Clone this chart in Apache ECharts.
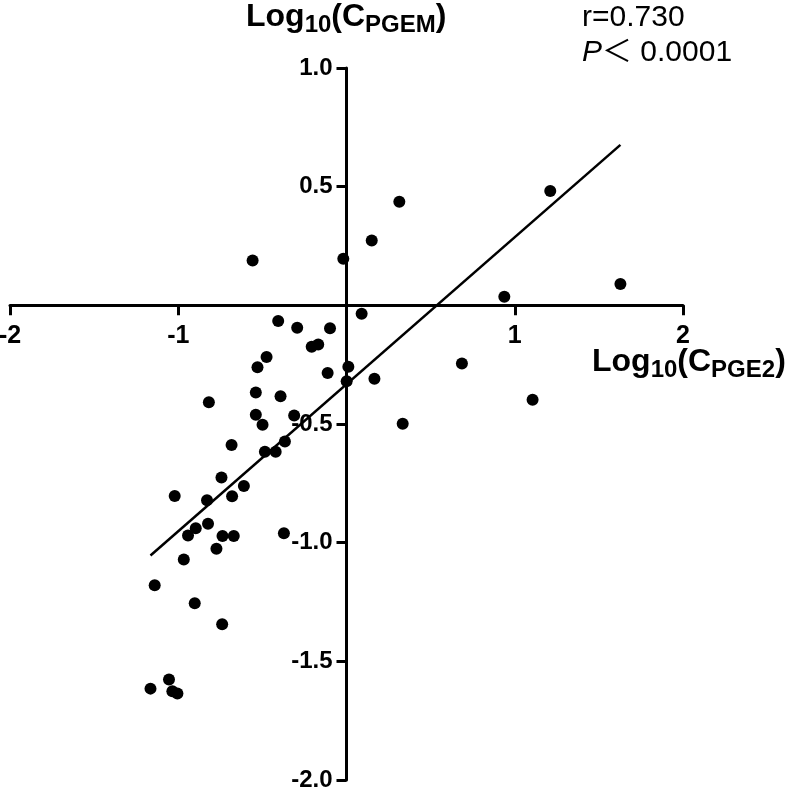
<!DOCTYPE html>
<html>
<head>
<meta charset="utf-8">
<script src="https://cdn.jsdelivr.net/npm/echarts@6/dist/echarts.min.js"></script>
<style>html,body{margin:0;padding:0;background:#fff}#c{width:793px;height:790px}</style>
</head>
<body>
<div id="c"></div>
<script>
// Data (x = Log10(C_PGE2), y = Log10(C_PGEM))
var pointsX = [0.314, 1.211, 0.150, -0.019, 1.628, 0.938, -0.558,
  0.090, -0.098, 0.686, 0.011, 0.001, 0.166, 1.106, 0.334,
  -0.406, -0.293, -0.207, -0.168, -0.475, -0.529, -0.112, -0.539, -0.392, -0.818,
  -0.539, -0.499, -0.311, -0.366, -0.421, -0.485, -0.683, -0.743, -0.610, -1.021,
  -0.829, -0.680, -0.823, -0.896, -0.942, -0.737, -0.670, -0.773, -0.372, -0.967,
  -1.140, -0.902, -0.739, -1.055, -1.165, -1.035, -1.005];
var pointsY = [0.436, 0.482, 0.273, 0.196, 0.090, 0.036, 0.189,
  -0.035, -0.097, -0.245, -0.259, -0.320, -0.309, -0.398, -0.499,
  -0.066, -0.094, -0.175, -0.165, -0.218, -0.261, -0.285, -0.367, -0.383, -0.408,
  -0.461, -0.503, -0.464, -0.574, -0.617, -0.617, -0.588, -0.725, -0.761, -0.803,
  -0.821, -0.804, -0.920, -0.939, -0.970, -0.972, -0.972, -1.026, -0.960, -1.071,
  -1.179, -1.255, -1.344, -1.577, -1.615, -1.626, -1.636];
var fitX = [-1.165, 1.628];
var fitY = [-1.054, 0.676];
var xTicks = [-2, -1, 0, 1, 2];
var yTicks = [-2.0, -1.5, -1.0, -0.5, 0, 0.5, 1.0];
var rText = 'r=0.730';
var pText = '0.0001';

var FONT = '"Liberation Sans", Arial, Helvetica, sans-serif';
var scatterData = pointsX.map(function (x, i) { return [x, pointsY[i]]; });
var fitData = fitX.map(function (x, i) { return [x, fitY[i]]; });

var GRID = {left: 10, right: 110, top: 68, bottom: 10};
var chart = echarts.init(document.getElementById('c'), null, {renderer: 'canvas'});
var titleRich = {
  a: {fontSize: 32, fontWeight: 'bold', fontFamily: FONT, color: '#000', lineHeight: 40, verticalAlign: 'middle'},
  b: {fontSize: 24, fontWeight: 'bold', fontFamily: FONT, color: '#000', lineHeight: 24, verticalAlign: 'bottom'}
};
chart.setOption({
  backgroundColor: '#fff',
  animation: false,
  title: [
    {text: '{a|Log}{b|10}{a|(C}{b|PGEM}{a|)}', left: 246, top: -3, padding: 0,
     textStyle: {rich: titleRich}},
    {text: '{a|Log}{b|10}{a|(C}{b|PGE2}{a|)}', left: 592, top: 342, padding: 0,
     textStyle: {rich: titleRich}},
    {text: '{n|' + rText + '}\n{i|P}{n|＜ ' + pText + '}', left: 582, top: 0, padding: 0,
     textStyle: {fontWeight: 'normal', rich: {
       n: {fontSize: 30, fontWeight: 'normal', fontFamily: FONT + ', "Noto Sans CJK SC"', color: '#000', lineHeight: 35},
       i: {fontSize: 30, fontWeight: 'normal', fontFamily: FONT, fontStyle: 'italic', color: '#000', lineHeight: 35}
     }}}
  ],
  grid: {left: GRID.left, right: GRID.right, top: GRID.top, bottom: GRID.bottom, containLabel: false, outerBoundsMode: 'none'},
  xAxis: {
    type: 'value', min: xTicks[0], max: xTicks[xTicks.length - 1], interval: 1,
    position: 'bottom', offset: 0,
    axisLine: {onZero: false, lineStyle: {color: '#000', width: 3}},
    axisTick: {show: true, length: 10, lineStyle: {color: '#000', width: 3}},
    axisLabel: {margin: 18, fontSize: 25, fontWeight: 'bold', fontFamily: FONT, color: '#000',
      formatter: function (v) { return v === 0 ? '' : String(v); }},
    splitLine: {show: false}
  },
  yAxis: {
    type: 'value', min: yTicks[0], max: yTicks[yTicks.length - 1], interval: 0.5,
    position: 'left', offset: 0,
    axisLine: {onZero: false, lineStyle: {color: '#000', width: 3}},
    axisTick: {show: true, length: 10, lineStyle: {color: '#000', width: 3}},
    axisLabel: {margin: 14, fontSize: 24, fontWeight: 'bold', fontFamily: FONT, color: '#000',
      formatter: function (v) { return v === 0 ? '' : v.toFixed(1); }},
    splitLine: {show: false}
  },
  series: [
    {type: 'line', data: fitData, symbol: 'none', lineStyle: {color: '#000', width: 2.5}, z: 2},
    {type: 'scatter', data: scatterData, symbol: 'circle', symbolSize: 12,
     itemStyle: {color: '#000', opacity: 1}, z: 3}
  ]
});
// Move both axes so they cross at the data origin (0, 0), using the library's own scale.
var origin = chart.convertToPixel({gridIndex: 0}, [0, 0]);
var gridRect = chart.getModel().getComponent('grid', 0).coordinateSystem.getRect();
chart.setOption({
  xAxis: {offset: -((gridRect.y + gridRect.height) - origin[1])},
  yAxis: {offset: -(origin[0] - gridRect.x)}
});
</script>
</body>
</html>
